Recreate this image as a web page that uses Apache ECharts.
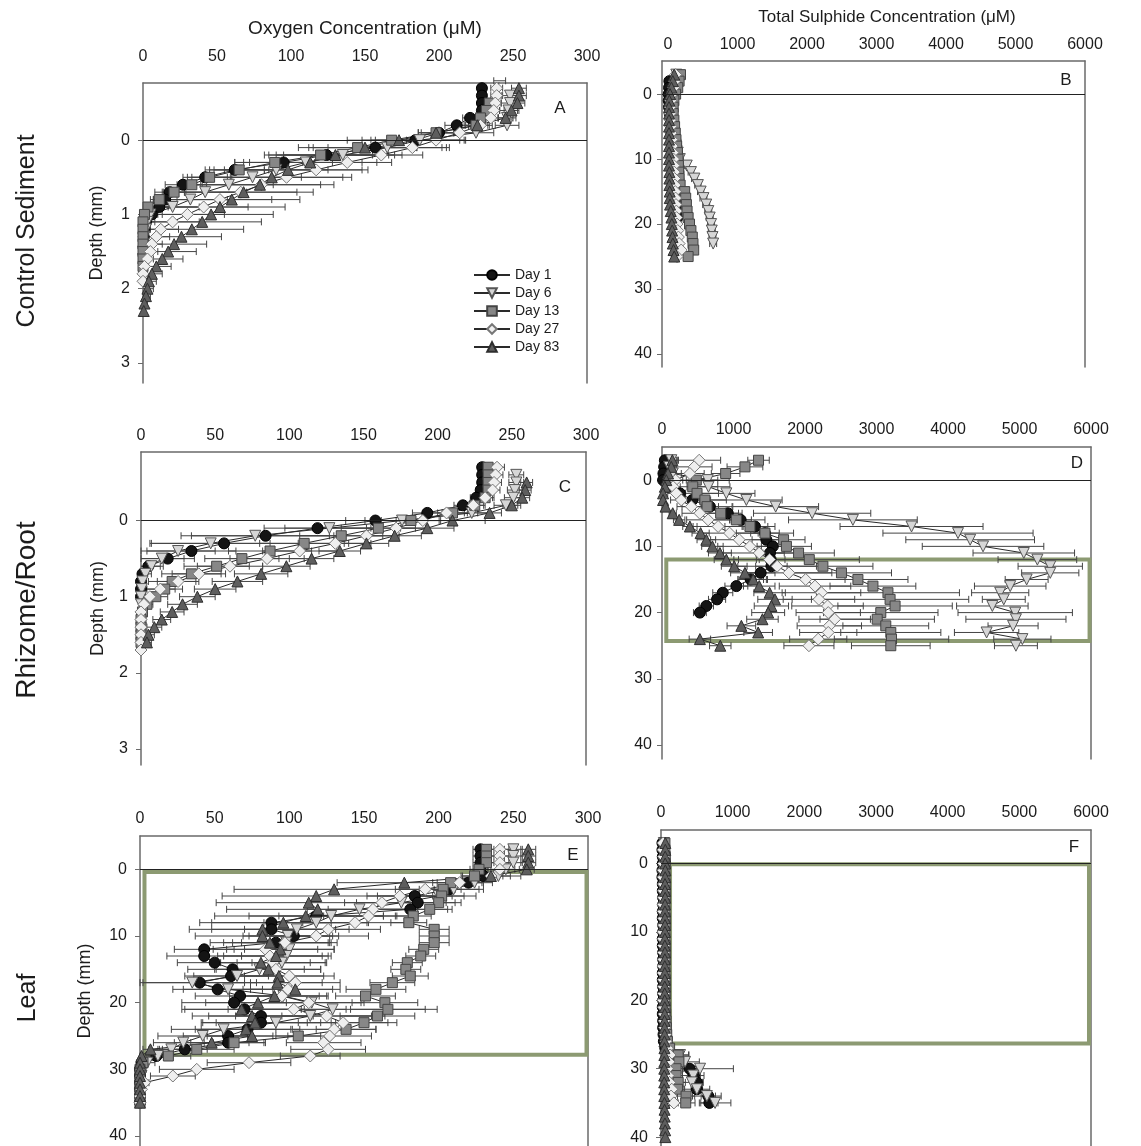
<!DOCTYPE html>
<html>
<head>
<meta charset="utf-8">
<script src="https://cdn.jsdelivr.net/npm/echarts@6/dist/echarts.min.js"></script>
<style>
  html, body { margin: 0; padding: 0; background: #ffffff; }
  #chart { width: 1141px; height: 1146px; }
</style>
</head>
<body>
<div id="chart"></div>
<script>
// ---------------------------------------------------------------
// Microprofiles of O2 and total sulphide beneath seagrass tissue
// Five sampling days; depth in mm (negative = water column)
// ---------------------------------------------------------------
const DAY_NAMES = ['Day 1', 'Day 6', 'Day 13', 'Day 27', 'Day 83'];

// axis tick labels
const oxygenTicks   = [0, 50, 100, 150, 200, 250, 300];
const sulphideTicks = [0, 1000, 2000, 3000, 4000, 5000, 6000];
const depthTicksO2  = [0, 1, 2, 3];
const depthTicksS   = [0, 10, 20, 30, 40];

// ---------- A: oxygen, control sediment (µM) ----------
const depthA = [-0.8,-0.7,-0.6,-0.5,-0.4,-0.3,-0.2,-0.1,0,0.1,0.2,0.3,0.4,0.5,0.6,0.7,0.8,0.9,1.0,1.1,1.2,1.3,1.4,1.5,1.6,1.7,1.8,1.9,2.0,2.1,2.2,2.3];
const oxyA_d1  = [null,229,229,229,229,221,212,200,184,157,124,95,62,42,27,18,15,11,6,2,1,0.5,null,null,null,null,null,null,null,null,null,null];
const errA_d1  = [null,3,3,3,3,5,8,12,30,45,42,33,20,15,12,10,8,6,4,2,1,1,null,null,null,null,null,null,null,null,null,null];
const oxyA_d6  = [null,null,248,248,247,246,246,225,187,165,135,110,90,74,58,42,32,20,5,3,2,1,0.5,0,0,null,null,null,null,null,null,null];
const errA_d6  = [null,null,6,6,6,6,8,12,30,40,40,38,35,33,30,28,25,18,8,5,3,2,1,1,1,null,null,null,null,null,null,null];
const oxyA_d13 = [null,null,null,234,232,228,225,198,168,145,120,89,65,45,33,21,11,3.4,1,0,0,0,0,0,0,0,null,null,null,null,null,null];
const errA_d13 = [null,null,null,5,5,6,8,12,30,40,35,27,20,15,10,8,6,3,1,0,0,0,0,0,0,0,null,null,null,null,null,null];
const oxyA_d27 = [241,239,239,238,237,235,228,214,198,182,161,138,117,97,80,66,52,41,30,20,12,9,6,5,3,1,0,0,null,null,null,null];
const errA_d27 = [4,4,4,4,4,5,8,12,20,25,28,30,35,38,40,38,35,30,25,18,12,9,7,5,4,2,1,1,null,null,null,null];
const oxyA_d83 = [null,254,254,253,249,245,226,198,173,150,130,113,98,87,79,68,60,52,46,40,33,26,21,17,13,9,6,4,3,2,1,0.5];
const errA_d83 = [null,5,5,5,5,5,8,12,25,35,40,45,50,54,50,47,46,44,42,40,35,27,22,19,14,10,7,5,4,3,2,1];

// ---------- B: total sulphide, control sediment (µM) ----------
const depthB = [-3,-2,-1,0,1,2,3,4,5,6,7,8,9,10,11,12,13,14,15,16,17,18,19,20,21,22,23,24,25];
const sulB_d1  = [null,20,15,10,10,15,25,40,60,85,105,120,130,140,145,150,150,150,150,145,145,140,135,null,null,null,null,null,null];
const errB_d1  = [null,10,10,8,8,8,10,12,15,18,20,22,25,25,25,25,25,25,25,25,25,25,25,null,null,null,null,null,null];
const sulB_d6  = [120,110,100,90,70,55,45,50,60,75,95,115,140,170,270,330,380,430,470,510,550,580,600,620,630,640,650,null,null];
const errB_d6  = [20,20,20,20,15,15,15,15,15,20,20,25,25,30,35,40,40,45,45,50,50,50,50,50,50,50,50,null,null];
const sulB_d13 = [180,160,140,110,85,75,75,85,95,105,115,125,135,145,150,155,160,175,240,255,265,275,290,310,330,350,360,370,290];
const errB_d13 = [20,20,20,15,15,15,15,15,15,20,20,20,20,20,25,25,25,30,40,45,50,50,45,40,40,35,35,35,30];
const sulB_d27 = [110,95,80,60,40,30,30,35,40,45,55,60,70,80,85,90,95,100,105,110,115,120,125,130,140,150,160,190,130];
const errB_d27 = [15,15,15,12,10,10,10,10,10,12,12,12,15,15,15,15,15,18,18,20,20,20,22,25,25,25,30,30,25];
const sulB_d83 = [90,70,50,30,20,15,15,15,15,15,15,15,15,15,15,20,20,20,25,25,30,40,50,55,60,65,70,80,90];
const errB_d83 = [15,12,10,8,6,5,5,5,5,5,5,5,5,5,5,6,6,6,8,8,10,12,15,15,15,18,18,20,20];

// ---------- C: oxygen, rhizome/root (µM) ----------
const depthC = [-0.7,-0.6,-0.5,-0.4,-0.3,-0.2,-0.1,0,0.1,0.2,0.3,0.4,0.5,0.6,0.7,0.8,0.9,1.0,1.1,1.2,1.3,1.4,1.5,1.6,1.7];
const oxyC_d1  = [230,230,230,229,226,217,193,158,119,84,56,34,18,5,1,0,0,0,null,null,null,null,null,null,null];
const errC_d1  = [3,3,3,3,4,6,10,20,36,50,50,30,18,8,3,1,0,0,null,null,null,null,null,null,null];
const oxyC_d6  = [null,253,253,252,251,246,223,176,127,77,47,25,14,7,3,1,0.5,0,0,null,null,null,null,null,null];
const errC_d6  = [null,5,5,5,6,8,12,25,30,50,40,25,15,8,4,2,1,0,0,null,null,null,null,null,null];
const oxyC_d13 = [234,234,234,234,232,225,210,182,160,135,110,87,68,51,34,21,16,10,4,1,0,0,0,0,null];
const errC_d13 = [4,4,4,4,5,6,10,20,25,28,30,28,25,22,20,16,12,8,4,1,0,0,0,0,null];
const oxyC_d27 = [240,239,238,237,232,224,206,190,172,152,131,107,85,60,39,25,13,6,2,0,0,0,0,0,0];
const errC_d27 = [5,5,5,5,6,8,12,18,20,22,24,25,25,22,18,14,10,6,3,1,0,0,0,0,0];
const oxyC_d83 = [null,null,260,259,257,250,235,210,193,171,152,134,115,98,81,65,50,38,28,21,14,9,5,4,null];
const errC_d83 = [null,null,4,4,5,6,8,22,18,18,15,14,15,16,18,17,14,12,10,8,6,5,4,3,null];

// ---------- D: total sulphide, rhizome/root (µM) ----------
const depthD = [-3,-2,-1,0,1,2,3,4,5,6,7,8,9,10,11,12,13,14,15,16,17,18,19,20,21,22,23,24,25];
const sulD_d1  = [40,30,20,15,80,250,425,670,920,1100,1300,1440,1460,1550,1510,1520,1530,1380,1240,1040,850,770,620,530,null,null,null,null,null];
const errD_d1  = [20,20,20,20,40,80,100,120,150,150,180,200,200,220,200,200,220,200,180,160,140,120,100,90,null,null,null,null,null];
const sulD_d6  = [130,100,150,640,650,900,1180,1590,2100,2670,3490,4140,4310,4490,5060,5250,5430,5430,5100,4870,4730,4780,4620,4940,4950,4910,4540,5040,4950];
const errD_d6  = [100,100,120,300,300,400,500,600,820,900,1000,1050,900,850,710,550,450,400,300,500,400,300,500,800,700,350,450,400,300];
const sulD_d13 = [1350,1160,890,480,430,490,600,630,820,1040,1230,1440,1700,1740,1910,2060,2250,2510,2740,2950,3160,3190,3260,3060,3010,3130,3200,3210,3200];
const errD_d13 = [150,250,200,300,350,300,300,350,300,400,350,400,300,350,500,700,700,700,700,600,1000,1100,800,800,800,600,700,800,550];
const sulD_d27 = [520,450,390,190,155,200,270,410,530,645,785,945,1080,1230,1360,1505,1610,1775,2010,2140,2230,2195,2315,2325,2415,2340,2325,2185,2055];
const errD_d27 = [300,250,200,100,100,120,150,200,250,300,350,400,400,450,500,500,550,600,550,500,550,500,500,450,500,450,400,400,350];
const sulD_d83 = [145,130,85,60,40,15,15,50,150,240,390,540,620,705,810,900,1010,1160,1275,1360,1505,1580,1530,1485,1405,1110,1345,530,815];
const errD_d83 = [60,50,40,30,20,15,15,30,50,80,100,120,130,150,160,170,180,200,200,220,220,240,240,230,220,200,200,150,150];

// ---------- E: oxygen, leaf (µM) ----------
const depthE = [-3,-2,-1,0,1,2,3,4,5,6,7,8,9,10,11,12,13,14,15,16,17,18,19,20,21,22,23,24,25,26,27,28,29,30,31,32,33,34,35];
const oxyE_d1  = [228,228,228,228,230,220,207,184,186,181,118,88,88,103,91,43,43,50,62,61,40,52,67,63,70,81,81,72,59,59,30,11,1,0,0,0,0,0,0];
const errE_d1  = [5,5,5,5,5,10,20,25,25,25,45,40,40,30,35,20,25,25,30,25,38,30,30,35,40,35,40,35,30,25,15,5,1,0,0,0,0,0,0];
const oxyE_d6  = [250,250,250,245,240,224,210,200,175,147,128,118,105,99,98,100,98,95,80,65,35,59,96,115,129,114,91,56,42,29,21,12,5,2,1,0,0,0,0];
const errE_d6  = [6,6,6,6,8,12,20,25,30,35,35,35,35,30,30,30,30,30,30,35,35,30,30,35,70,50,40,35,30,20,15,10,5,2,1,0,0,0,0];
const oxyE_d13 = [232,232,232,227,224,208,203,202,200,194,183,180,197,197,197,190,188,179,178,181,169,158,151,164,166,159,150,138,106,63,38,19,2,0,0,0,0,0,0];
const errE_d13 = [5,5,5,6,8,12,12,15,15,15,12,12,10,10,10,10,10,10,10,12,15,20,20,22,25,25,22,20,15,20,25,15,2,0,0,0,0,0,0];
const oxyE_d27 = [241,241,241,241,235,214,191,174,162,156,153,144,126,118,97,84,87,89,91,100,104,99,95,113,103,125,136,130,127,123,126,114,73,38,22,3,1,0,0];
const errE_d27 = [6,6,6,6,8,15,20,22,25,30,30,35,35,35,35,35,35,35,30,30,30,30,30,35,35,30,30,28,28,25,25,20,28,25,15,3,1,0,0];
const oxyE_d83 = [260,260,260,259,235,177,130,118,113,119,111,96,82,82,87,94,91,81,86,93,92,104,90,79,68,75,77,71,75,48,7,1,0,0,0,0,0,0,0];
const errE_d83 = [5,5,5,5,20,45,67,63,62,61,61,56,49,45,40,36,35,33,35,30,30,30,30,35,40,40,35,30,30,25,5,1,0,0,0,0,0,0,0];

// ---------- F: total sulphide, leaf (µM) ----------
const depthF = [-3,-2,-1,0,1,2,3,4,5,6,7,8,9,10,11,12,13,14,15,16,17,18,19,20,21,22,23,24,25,26,27,28,29,30,31,32,33,34,35,36,37,38,39,40];
const sulF_d1  = [20,20,25,25,20,20,25,25,30,30,25,25,30,30,25,25,30,30,30,25,25,30,30,30,25,25,30,30,35,40,60,120,250,400,460,500,500,660,675,null,null,null,null,null];
const errF_d1  = [10,10,10,10,10,10,10,10,10,10,10,10,10,10,10,10,10,10,10,10,10,10,10,10,10,10,10,10,10,10,20,40,80,100,90,80,80,100,120,null,null,null,null,null];
const sulF_d6  = [40,40,45,45,40,40,45,45,50,50,45,45,50,50,45,45,50,50,50,45,45,50,50,50,45,50,55,55,60,70,90,265,335,545,450,430,500,640,755,null,null,null,null,null];
const errF_d6  = [15,15,15,15,15,15,15,15,15,15,15,15,15,15,15,15,15,15,15,15,15,15,15,15,15,15,15,15,15,15,30,120,200,465,150,160,180,200,220,null,null,null,null,null];
const sulF_d13 = [55,55,60,60,55,55,60,60,60,55,55,60,60,55,55,60,60,60,55,55,60,60,60,55,60,65,70,75,80,90,120,240,250,210,210,240,230,350,345,null,null,null,null,null];
const errF_d13 = [15,15,15,15,15,15,15,15,15,15,15,15,15,15,15,15,15,15,15,15,15,15,15,15,15,15,15,15,15,15,30,150,120,100,90,100,100,120,130,null,null,null,null,null];
const sulF_d27 = [30,30,35,35,30,30,35,35,35,30,30,35,35,30,30,35,35,35,30,30,35,35,35,30,35,40,45,50,60,70,90,125,110,90,100,120,150,140,180,null,null,null,null,null];
const errF_d27 = [10,10,10,10,10,10,10,10,10,10,10,10,10,10,10,10,10,10,10,10,10,10,10,10,10,10,10,10,10,10,20,40,40,30,30,40,50,50,60,null,null,null,null,null];
const sulF_d83 = [60,60,58,58,60,58,56,56,58,56,55,55,56,55,54,54,55,54,53,53,54,53,52,52,53,52,50,50,50,48,48,47,46,46,45,45,45,46,48,50,52,55,58,60];
const errF_d83 = [10,10,10,10,10,10,10,10,10,10,10,10,10,10,10,10,10,10,10,10,10,10,10,10,10,10,10,10,10,10,10,10,10,10,10,10,10,10,10,10,10,10,10,10];

// highlighted depth windows: [x from, x to], [depth from, depth to]
const boxD = { x: [60, 5980], depth: [12, 24.3] };
const boxE = { x: [3, 299],   depth: [0.4, 27.8] };
const boxF = { x: [126, 5972], depth: [0.1, 26.3] };

// ---------------------------------------------------------------
const FONT = "'Liberation Sans', Arial, sans-serif";
const TEXT = '#1c1c1c';
const FRAME = '#6a6a6a';
const LINE = '#2a2a2a';
const BOX_GREEN = '#8c9a72';

const MARKERS = [
  { symbol: 'circle',   rotate: 0,   size: 11, fill: '#141414', border: '#000000' },
  { symbol: 'triangle', rotate: 180, size: 11, fill: '#d6d6d6', border: '#555555' },
  { symbol: 'rect',     rotate: 0,   size: 10, fill: '#878787', border: '#444444' },
  { symbol: 'diamond',  rotate: 0,   size: 12, fill: '#efefef', border: '#777777' },
  { symbol: 'triangle', rotate: 0,   size: 11, fill: '#5e5e5e', border: '#2e2e2e' }
];

const panels = [
  { key: 'A', depth: depthA, values: [oxyA_d1, oxyA_d6, oxyA_d13, oxyA_d27, oxyA_d83], errors: [errA_d1, errA_d6, errA_d13, errA_d27, errA_d83], xTicks: oxygenTicks, yTicks: depthTicksO2, box: null },
  { key: 'B', depth: depthB, values: [sulB_d1, sulB_d6, sulB_d13, sulB_d27, sulB_d83], errors: [errB_d1, errB_d6, errB_d13, errB_d27, errB_d83], xTicks: sulphideTicks, yTicks: depthTicksS, box: null },
  { key: 'C', depth: depthC, values: [oxyC_d1, oxyC_d6, oxyC_d13, oxyC_d27, oxyC_d83], errors: [errC_d1, errC_d6, errC_d13, errC_d27, errC_d83], xTicks: oxygenTicks, yTicks: depthTicksO2, box: null },
  { key: 'D', depth: depthD, values: [sulD_d1, sulD_d6, sulD_d13, sulD_d27, sulD_d83], errors: [errD_d1, errD_d6, errD_d13, errD_d27, errD_d83], xTicks: sulphideTicks, yTicks: depthTicksS, box: boxD },
  { key: 'E', depth: depthE, values: [oxyE_d1, oxyE_d6, oxyE_d13, oxyE_d27, oxyE_d83], errors: [errE_d1, errE_d6, errE_d13, errE_d27, errE_d83], xTicks: oxygenTicks, yTicks: depthTicksS, box: boxE },
  { key: 'F', depth: depthF, values: [sulF_d1, sulF_d6, sulF_d13, sulF_d27, sulF_d83], errors: [errF_d1, errF_d6, errF_d13, errF_d27, errF_d83], xTicks: sulphideTicks, yTicks: depthTicksS, box: boxF }
];

// frame geometry and axis ranges of every panel
const LAYOUT = {
  A: { left: 143, top: 83,  width: 444, height: 300, x: [0, 300],   y: [-0.77, 3.27], xGap: 18, yGap: 13, name: 'Depth (mm)', nameGap: 37, tag: [560, 108] },
  B: { left: 662, top: 61,  width: 423, height: 306, x: [-86, 6000], y: [-5.1, 42],   xGap: 8,  yGap: 10, name: '',           nameGap: 0,  tag: [1066, 80] },
  C: { left: 141, top: 452, width: 445, height: 313, x: [0, 300],   y: [-0.9, 3.21],  xGap: 8,  yGap: 13, name: 'Depth (mm)', nameGap: 34, tag: [565, 487] },
  D: { left: 662, top: 447, width: 429, height: 312, x: [0, 6000],  y: [-5, 42.1],    xGap: 9,  yGap: 10, name: '',           nameGap: 0,  tag: [1077, 463] },
  E: { left: 140, top: 836, width: 448, height: 310, x: [0, 300],   y: [-5, 41.5],    xGap: 9,  yGap: 13, name: 'Depth (mm)', nameGap: 46, tag: [573, 855] },
  F: { left: 661, top: 830, width: 430, height: 316, x: [0, 6000],  y: [-4.9, 41.3],  xGap: 9,  yGap: 13, name: '',           nameGap: 0,  tag: [1074, 847] }
};

// horizontal SD bar with end caps, clipped to the plot frame
function errorBar(params, api) {
  const v = api.value(0), d = api.value(1), e = api.value(2);
  if (!(e > 0)) return null;
  const cs = params.coordSys;
  const lo = api.coord([v - e, d]);
  const hi = api.coord([v + e, d]);
  const left = cs.x, right = cs.x + cs.width;
  const y = lo[1];
  const xa = Math.max(lo[0], left), xb = Math.min(hi[0], right);
  if (xb <= xa) return null;
  const stroke = { stroke: '#444444', lineWidth: 1 };
  const children = [{ type: 'line', shape: { x1: xa, y1: y, x2: xb, y2: y }, style: stroke }];
  if (lo[0] >= left) children.push({ type: 'line', shape: { x1: lo[0], y1: y - 3.5, x2: lo[0], y2: y + 3.5 }, style: stroke });
  if (hi[0] <= right) children.push({ type: 'line', shape: { x1: hi[0], y1: y - 3.5, x2: hi[0], y2: y + 3.5 }, style: stroke });
  return { type: 'group', children: children };
}

const plainNumber = function (v) { return String(v); };

const grid = [], xAxis = [], yAxis = [], series = [];
const axisLineStyle = { color: FRAME, width: 1.5 };

panels.forEach(function (p, gi) {
  const L = LAYOUT[p.key];
  grid.push({ left: L.left, top: L.top, width: L.width, height: L.height, outerBoundsMode: 'none' });

  xAxis.push({
    gridIndex: gi, type: 'value', position: 'top', min: L.x[0], max: L.x[1],
    axisLine: { show: true, onZero: false, lineStyle: axisLineStyle },
    axisTick: { show: false },
    splitLine: { show: false },
    axisLabel: { customValues: p.xTicks, formatter: plainNumber, margin: L.xGap, fontSize: 16, color: TEXT, fontFamily: FONT }
  });

  yAxis.push({
    gridIndex: gi, type: 'value', inverse: true, position: 'left', min: L.y[0], max: L.y[1],
    axisLine: { show: true, onZero: false, lineStyle: axisLineStyle },
    axisTick: { show: true, inside: false, length: 5, customValues: p.yTicks, lineStyle: { color: FRAME, width: 1 } },
    axisLabel: { customValues: p.yTicks, formatter: plainNumber, margin: L.yGap, fontSize: 16, color: TEXT, fontFamily: FONT },
    splitLine: { show: false },
    name: L.name, nameLocation: 'middle', nameGap: L.nameGap,
    nameTextStyle: { fontSize: 18, color: TEXT, fontFamily: FONT }
  });
  // right-hand edge of the frame
  yAxis.push({
    gridIndex: gi, type: 'value', position: 'right', min: 0, max: 1,
    axisLine: { show: true, onZero: false, lineStyle: axisLineStyle },
    axisTick: { show: false }, axisLabel: { show: false }, splitLine: { show: false }
  });

  const rowsPerDay = p.values.map(function (vals, k) {
    const rows = [];
    p.depth.forEach(function (d, i) {
      if (vals[i] !== null && vals[i] !== undefined) rows.push([vals[i], d, p.errors[k][i]]);
    });
    return rows;
  });

  // SD bars underneath the profiles
  rowsPerDay.forEach(function (rows, k) {
    series.push({
      type: 'custom', name: DAY_NAMES[k] + ' SD', xAxisIndex: gi, yAxisIndex: 2 * gi,
      data: rows, encode: { x: 0, y: 1 }, renderItem: errorBar, silent: true, z: 1,
      animation: false
    });
  });

  rowsPerDay.forEach(function (rows, k) {
    const m = MARKERS[k];
    const s = {
      type: 'line', name: DAY_NAMES[k], xAxisIndex: gi, yAxisIndex: 2 * gi,
      data: rows.map(function (r) { return [r[0], r[1]]; }),
      symbol: m.symbol, symbolSize: m.size, symbolRotate: m.rotate, showSymbol: true,
      lineStyle: { color: LINE, width: 1 },
      itemStyle: { color: m.fill, borderColor: m.border, borderWidth: 1 },
      emphasis: { disabled: true }, silent: true, animation: false, z: 2
    };
    if (k === 0) {
      // sediment–water interface
      s.markLine = {
        silent: true, symbol: 'none', animation: false,
        label: { show: false },
        lineStyle: { color: '#222222', width: 1, type: 'solid' },
        data: [{ yAxis: 0 }]
      };
    }
    if (k === 4 && p.box) {
      s.markArea = {
        silent: true, animation: false,
        itemStyle: { color: 'rgba(0,0,0,0)', borderColor: BOX_GREEN, borderWidth: 4 },
        data: [[{ coord: [p.box.x[0], p.box.depth[0]] }, { coord: [p.box.x[1], p.box.depth[1]] }]]
      };
    }
    series.push(s);
  });
});

function label(text, x, y, size, rot) {
  return {
    type: 'text', x: x, y: y, rotation: rot || 0, silent: true,
    style: { text: text, font: size + 'px ' + FONT, fill: TEXT, textAlign: 'center', textVerticalAlign: 'middle' }
  };
}

const graphics = [
  label('Oxygen Concentration (\u03bcM)', 365, 29, 19),
  label('Total Sulphide Concentration (\u03bcM)', 887, 17, 17),
  label('Control Sediment', 27, 231, 25, Math.PI / 2),
  label('Rhizome/Root', 27, 610, 28, Math.PI / 2),
  label('Leaf', 28, 998, 25, Math.PI / 2)
];
panels.forEach(function (p) {
  const t = LAYOUT[p.key].tag;
  graphics.push(label(p.key, t[0], t[1], 17));
});

const chart = echarts.init(document.getElementById('chart'), null, { renderer: 'canvas' });
chart.setOption({
  backgroundColor: '#ffffff',
  animation: false,
  textStyle: { fontFamily: FONT },
  grid: grid,
  xAxis: xAxis,
  yAxis: yAxis,
  legend: {
    data: DAY_NAMES, orient: 'vertical', left: 468, top: 263,
    itemWidth: 36, itemHeight: 12, itemGap: 4, selectedMode: false,
    textStyle: { fontSize: 14, color: TEXT, fontFamily: FONT }
  },
  graphic: graphics,
  series: series
});
</script>
</body>
</html>
